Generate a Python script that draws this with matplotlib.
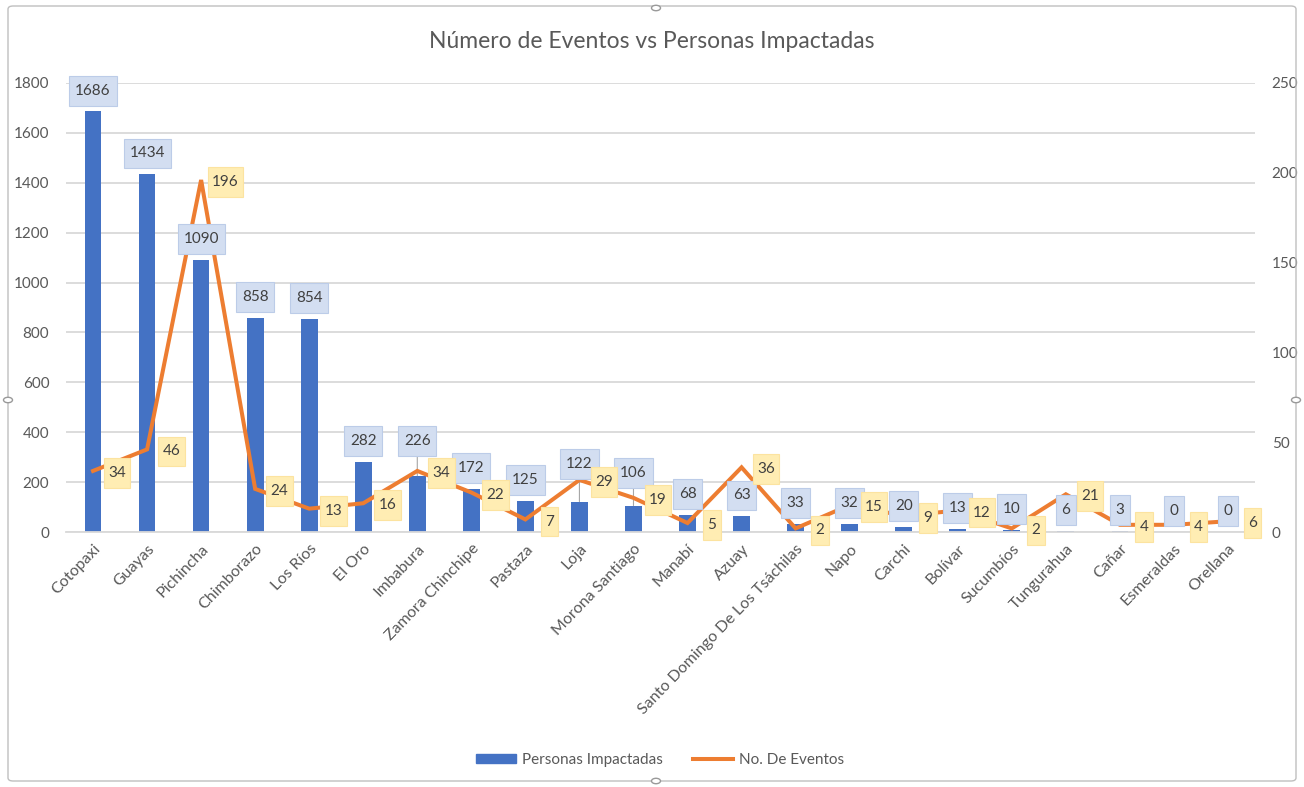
import matplotlib
matplotlib.use("Agg")
import matplotlib.pyplot as plt
from matplotlib.patches import FancyBboxPatch, Patch, Circle
from matplotlib.lines import Line2D
from matplotlib.path import Path
import numpy as np

plt.rcParams['font.family'] = ['Lato', 'DejaVu Sans']

categories = ["Cotopaxi", "Guayas", "Pichincha", "Chimborazo", "Los Ríos", "El Oro",
              "Imbabura", "Zamora Chinchipe", "Pastaza", "Loja", "Morona Santiago",
              "Manabí", "Azuay", "Santo Domingo De Los Tsáchilas", "Napo", "Carchi",
              "Bolívar", "Sucumbíos", "Tungurahua", "Cañar", "Esmeraldas", "Orellana"]
personas = [1686, 1434, 1090, 858, 854, 282, 226, 172, 125, 122, 106, 68, 63, 33, 32,
            20, 13, 10, 6, 3, 0, 0]
eventos = [34, 46, 196, 24, 13, 16, 34, 22, 7, 29, 19, 5, 36, 2, 15, 9, 12, 2, 21, 4, 4, 6]
left_ticks = [0, 200, 400, 600, 800, 1000, 1200, 1400, 1600, 1800]
right_ticks = [0, 50, 100, 150, 200, 250]
title = "Número de Eventos vs Personas Impactadas"
bar_name = "Personas Impactadas"
line_name = "No. De Eventos"

# styles
bar_color = "#4472C4"
line_color = "#ED7D31"
grid_color = "#D9D9D9"
text_color = "#595959"
label_color = "#404040"
# extra vertical offsets (points) for bar labels moved with leader lines
bar_label_offsets = {6: 10, 9: 12, 10: 8.5}


def make_box(padx, pady):
    def box(x0, y0, width, height, mutation_size):
        px = padx * mutation_size
        py = pady * mutation_size
        x0, y0 = x0 - px, y0 - py
        x1, y1 = x0 + width + 2 * px, y0 + height + 2 * py
        return Path([(x0, y0), (x1, y0), (x1, y1), (x0, y1), (x0, y0)], closed=True)
    return box


W, H = 1304, 787
fig = plt.figure(figsize=(W / 100, H / 100), dpi=100)
ax = fig.add_axes([66 / W, 1 - 532 / H, (1255 - 66) / W, (532 - 83) / H])
ax2 = ax.twinx()

x = np.arange(len(categories))
ax.bar(x, personas, width=0.31, color=bar_color, zorder=2)
ax2.plot(x, eventos, color=line_color, lw=2.9, zorder=3, solid_joinstyle='miter')

ax.set_xlim(-0.5, len(categories) - 0.5)
ax.set_ylim(0, 1800)
ax2.set_ylim(0, 250)
ax.set_yticks(left_ticks)
ax2.set_yticks(right_ticks)
ax.yaxis.grid(True, color=grid_color, lw=1.3, zorder=0)
ax.set_axisbelow(True)
for a in (ax, ax2):
    for s in a.spines.values():
        s.set_visible(False)
    a.tick_params(length=0, colors=text_color, labelsize=11)
ax.spines['bottom'].set_visible(True)
ax.spines['bottom'].set_color(grid_color)
ax.spines['bottom'].set_linewidth(1.3)
ax.tick_params(axis='y', pad=12)
ax2.tick_params(axis='y', pad=12)
ax.set_xticks(x)
ax.set_xticklabels(categories, rotation=46, ha='right', va='top',
                   rotation_mode='anchor', fontsize=11.5, color=text_color)
ax.tick_params(axis='x', pad=7)

bar_box = make_box(0.38, 0.52)
line_box = make_box(0.28, 0.52)

# bar data labels (drawn on the top axes so they cover the line)
for i, v in enumerate(personas):
    extra = bar_label_offsets.get(i, 0)
    off = 15 + extra
    ax2.annotate(str(v), (x[i], v), xycoords=ax.transData, xytext=(0, off),
                 textcoords='offset points', ha='center', va='center', fontsize=11,
                 color=label_color, zorder=6,
                 bbox=dict(boxstyle=bar_box, fc='#D3DEF1', ec='#BCCCE8', lw=0.8))
    if extra:
        ax2.annotate("", (x[i], v), xycoords=ax.transData, xytext=(0, off - 11),
                     textcoords='offset points',
                     arrowprops=dict(arrowstyle='-', color='#A6A6A6', lw=0.8,
                                     shrinkA=0, shrinkB=0), zorder=2)

# line data labels
for i, v in enumerate(eventos):
    ax2.annotate(str(v), (x[i], v), xytext=(17.5, -1.5), textcoords='offset points',
                 ha='center', va='center', fontsize=11, color=label_color, zorder=7,
                 bbox=dict(boxstyle=line_box, fc='#FFEDB3', ec='#FCE3A0', lw=0.8))

fig.text(0.5, 1 - 41 / H, title, ha='center', va='center', fontsize=16.5, color=text_color)

# legend
handles = [Patch(color=bar_color, label=bar_name),
           Line2D([0], [0], color=line_color, lw=2.9, label=line_name)]
fig.legend(handles=handles, loc='center', bbox_to_anchor=(660 / W, 1 - 760 / H),
           ncol=2, frameon=False, fontsize=11, labelcolor=text_color,
           handlelength=2.6, handleheight=0.6, columnspacing=2.0, handletextpad=0.4)

# chart frame with selection handles
frame = FancyBboxPatch((8 / W, 6 / H), (1296 - 8) / W, (781 - 6) / H,
                       boxstyle='round,pad=0,rounding_size=0.004', transform=fig.transFigure,
                       fc='none', ec='#BFBFBF', lw=1.0)
fig.patches.append(frame)
for hx, hy in [(656, 8), (656, 781), (8, 400), (1296, 400)]:
    fig.patches.append(Circle((hx / W, 1 - hy / H), 4.5 / W, transform=fig.transFigure,
                              fc='white', ec='#9A9A9A', lw=1.0, zorder=10))

fig.savefig("out.png", dpi=100)
